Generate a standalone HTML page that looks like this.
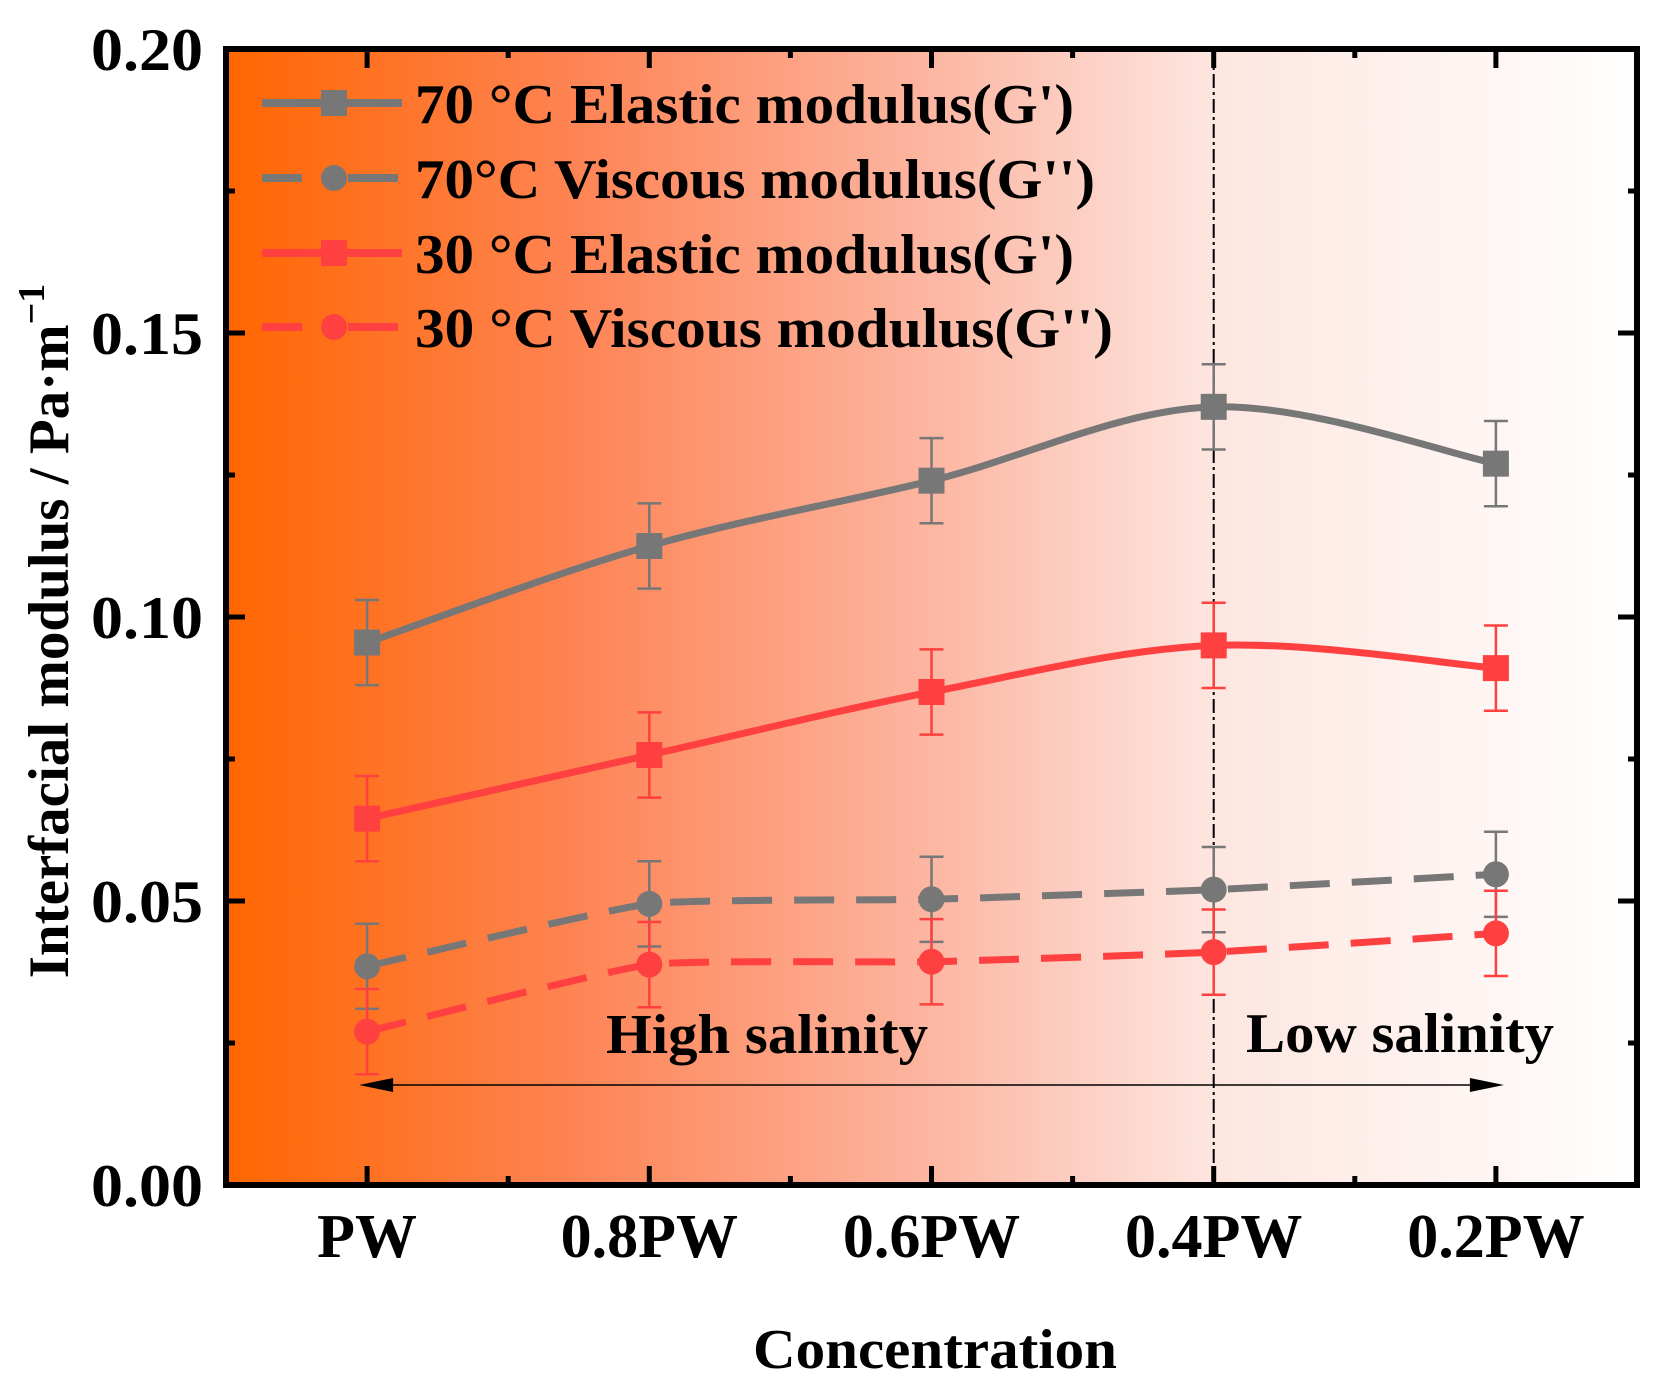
<!DOCTYPE html>
<html><head><meta charset="utf-8"><style>
html,body{margin:0;padding:0;background:#fff;}
svg text{font-family:"Liberation Serif",serif;font-weight:bold;fill:#000;}
</style></head><body>
<svg id="chart" width="1662" height="1382" xmlns="http://www.w3.org/2000/svg">
<defs>
<linearGradient id="bg" x1="0" x2="1" y1="0" y2="0">
<stop offset="0" stop-color="#ff6600"/>
<stop offset="0.25" stop-color="#fe8455"/>
<stop offset="0.5" stop-color="#fcb6a2"/>
<stop offset="0.7" stop-color="#fde6e0"/>
<stop offset="1" stop-color="#fffefe"/>
</linearGradient>
</defs>
<rect x="226" y="49" width="1411" height="1136" fill="url(#bg)"/>
<g id="marks"></g>
<g id="axes"></g>
</svg>
<script>
const categories=["PW","0.8PW","0.6PW","0.4PW","0.2PW"];
const g70E=[0.0955,0.1125,0.124,0.137,0.127];
const g70V=[0.0385,0.0495,0.0503,0.052,0.0547];
const g30E=[0.0645,0.0757,0.0868,0.095,0.091];
const g30V=[0.027,0.0388,0.0393,0.041,0.0443];
const errs=[0.0075,0.0075,0.0075,0.0075,0.0075];
const yTicks=[0,0.05,0.10,0.15,0.20];
const yTickLabels=["0.00","0.05","0.10","0.15","0.20"];

const NS="http://www.w3.org/2000/svg";
const L=226,R=1637,T=49,B=1185;
function xs(i){return L+(i+0.5)*(R-L)/5;}
function ys(v){return B-(v/0.2)*(B-T);}
function mk(tag,attrs,parent){const e=document.createElementNS(NS,tag);for(const k in attrs)e.setAttribute(k,attrs[k]);parent.appendChild(e);return e;}
const marks=document.getElementById('marks'),axes=document.getElementById('axes');

let e=mk('line',{x1:xs(3),x2:xs(3),y1:T,y2:B,stroke:'#000','stroke-width':2,'stroke-dasharray':'14,4,3,4'},marks);


e=mk('line',{x1:xs(0)+14,x2:xs(4)-14,y1:1085,y2:1085,stroke:'#000','stroke-width':1.5},marks);


e=mk('polygon',{points:`${xs(0)-8},1085 ${xs(0)+26},1078 ${xs(0)+26},1092`,fill:'#000'},marks);


e=mk('polygon',{points:`${xs(4)+8},1085 ${xs(4)-26},1078 ${xs(4)-26},1092`,fill:'#000'},marks);


e=mk('text',{x:767,y:1053,'font-size':56,'text-anchor':'middle',textLength:322,lengthAdjust:'spacingAndGlyphs'},marks);e.textContent='High salinity';


e=mk('text',{x:1400,y:1052,'font-size':56,'text-anchor':'middle',textLength:308,lengthAdjust:'spacingAndGlyphs'},marks);e.textContent='Low salinity';



function smooth(vals,k){
  const p=vals.map((v,i)=>[xs(i),ys(v)]);
  let d=`M${p[0][0]},${p[0][1]}`;
  for(let i=0;i<p.length-1;i++){
    const p0=p[Math.max(0,i-1)],p1=p[i],p2=p[i+1],p3=p[Math.min(p.length-1,i+2)];
    const c1=[p1[0]+(p2[0]-p0[0])*k,p1[1]+(p2[1]-p0[1])*k];
    const c2=[p2[0]-(p3[0]-p1[0])*k,p2[1]-(p3[1]-p1[1])*k];
    d+=` C${c1[0]},${c1[1]} ${c2[0]},${c2[1]} ${p2[0]},${p2[1]}`;
  }
  return d;
}
const series=[
 {vals:g70E,color:'#777777',dash:null,shape:'sq',name:'series-70c-elastic',k:1/6},
 {vals:g70V,color:'#777777',dash:'40,22',shape:'ci',name:'series-70c-viscous',k:1/14},
 {vals:g30E,color:'#ff4040',dash:null,shape:'sq',name:'series-30c-elastic',k:1/6},
 {vals:g30V,color:'#ff4040',dash:'40,22',shape:'ci',name:'series-30c-viscous',k:1/14}];
series.forEach(s=>{
  const g=mk('g',{},marks);
  
  
  const a={d:smooth(s.vals,s.k),fill:'none',stroke:s.color,'stroke-width':7};
  if(s.dash)a['stroke-dasharray']=s.dash;
  const ln=mk('path',a,g);
  
  
  s.vals.forEach((v,i)=>{
    const x=xs(i),y1=ys(v+errs[i]),y2=ys(v-errs[i]);
    const eb=mk('path',{d:`M${x},${y1}V${y2}M${x-12},${y1}H${x+12}M${x-12},${y2}H${x+12}`,stroke:s.color,'stroke-width':2.5,fill:'none'},g);
    
    
    let m;
    if(s.shape==='sq')m=mk('rect',{x:x-13,y:ys(v)-13,width:26,height:26,fill:s.color},g);
    else m=mk('circle',{cx:x,cy:ys(v),r:13,fill:s.color},g);
    
    
  });
});

const legY=[103,178,253,327];
const legText=["70 °C Elastic modulus(G')","70°C Viscous modulus(G'')","30 °C Elastic modulus(G')","30 °C Viscous modulus(G'')"];
const legW=[659,680,659,698];
series.forEach((s,k)=>{
  const g=mk('g',{},marks);
  
  
  const y=legY[k];
  if(s.dash){mk('line',{x1:262,x2:302,y1:y,y2:y,stroke:s.color,'stroke-width':8},g);mk('line',{x1:348,x2:398,y1:y,y2:y,stroke:s.color,'stroke-width':8},g);}
  else mk('line',{x1:262,x2:402,y1:y,y2:y,stroke:s.color,'stroke-width':8},g);
  if(s.shape==='sq')mk('rect',{x:321,y:y-13,width:26,height:26,fill:s.color},g);
  else mk('circle',{cx:334,cy:y,r:13,fill:s.color},g);
  const t=mk('text',{x:415,y:y+20,'font-size':56,textLength:legW[k],lengthAdjust:'spacingAndGlyphs'},g);t.textContent=legText[k];
});

e=mk('rect',{x:L,y:T,width:R-L,height:B-T,fill:'none',stroke:'#000','stroke-width':6},axes);


for(let i=0;i<5;i++){
  const x=xs(i);
  mk('line',{x1:x,x2:x,y1:B,y2:B-19,stroke:'#000','stroke-width':5},axes);
  mk('line',{x1:x,x2:x,y1:T,y2:T+19,stroke:'#000','stroke-width':5},axes);
  if(i<4){const xm=(x+xs(i+1))/2;mk('line',{x1:xm,x2:xm,y1:B,y2:B-9,stroke:'#000','stroke-width':5},axes);mk('line',{x1:xm,x2:xm,y1:T,y2:T+9,stroke:'#000','stroke-width':5},axes);}
  const t=mk('text',{x:x,y:1257,'font-size':62,'text-anchor':'middle'},axes);t.textContent=categories[i];
  
  
}
yTicks.forEach((v,i)=>{
  const y=ys(v);
  mk('line',{x1:L,x2:L+19,y1:y,y2:y,stroke:'#000','stroke-width':5},axes);
  mk('line',{x1:R,x2:R-19,y1:y,y2:y,stroke:'#000','stroke-width':5},axes);
  if(i<4){const ym=ys(v+0.025);mk('line',{x1:L,x2:L+9,y1:ym,y2:ym,stroke:'#000','stroke-width':5},axes);mk('line',{x1:R,x2:R-9,y1:ym,y2:ym,stroke:'#000','stroke-width':5},axes);}
  const t=mk('text',{x:203,y:y+21,'font-size':60,'text-anchor':'end',textLength:112,lengthAdjust:'spacingAndGlyphs'},axes);t.textContent=yTickLabels[i];
  
  
});
e=mk('text',{x:935,y:1368,'font-size':56,'text-anchor':'middle',textLength:364,lengthAdjust:'spacingAndGlyphs'},axes);e.textContent='Concentration';


e=mk('text',{x:0,y:0,'font-size':57,'text-anchor':'middle',transform:'translate(68,631) rotate(-90)'},axes);
e.innerHTML='Interfacial modulus / Pa·m<tspan dy="-24" font-size="38">−1</tspan>';


</script>
</body></html>
